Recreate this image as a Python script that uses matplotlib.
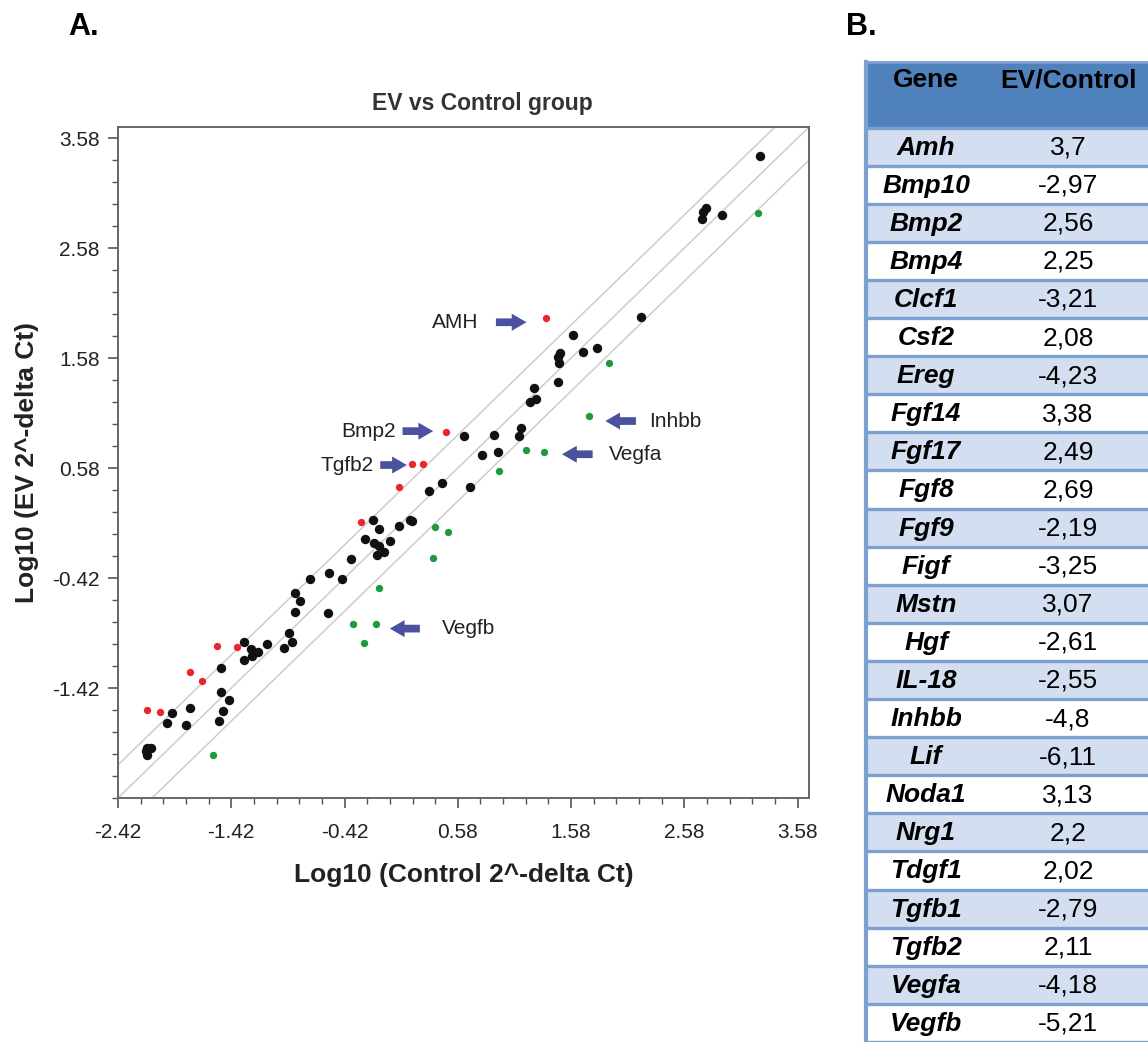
import matplotlib
matplotlib.use("Agg")
import matplotlib.pyplot as plt
from matplotlib.patches import Rectangle, FancyArrow
from matplotlib.ticker import FixedLocator
import numpy as np

plt.rcParams["font.family"] = ["Liberation Sans", "DejaVu Sans"]

# Log10 (Control 2^-delta Ct) vs Log10 (EV 2^-delta Ct)
black_x = [3.246, 2.770, 2.748, 2.732, 2.908, 2.193, 1.599, 1.687, 1.812, 1.481,
           1.461, 1.472, 1.463, 1.252, 1.269, 1.216, 1.140, 1.117, 0.638, 0.901,
           0.797, 0.937, 0.329, 0.442, 0.687, 0.157, 0.178, 0.065, -0.165, -0.116,
           -0.243, -0.163, -0.116, -0.019, -0.137, -0.074, -0.364, -0.555, -0.721, -0.440,
           -0.856, -0.814, -0.856, -0.567, -0.913, -0.882, -0.959, -1.108, -1.308, -1.246,
           -1.187, -1.237, -1.306, -1.511, -1.511, -1.438, -1.496, -1.526, -1.785, -1.822,
           -1.946, -1.985, -2.160, -2.133, -2.164, -2.173]
black_y = [3.419, 2.948, 2.910, 2.842, 2.880, 1.950, 1.786, 1.637, 1.671, 1.630,
           1.586, 1.532, 1.366, 1.310, 1.210, 1.183, 0.944, 0.871, 0.874, 0.880,
           0.695, 0.728, 0.374, 0.442, 0.410, 0.107, 0.098, 0.053, 0.107, 0.025,
           -0.067, -0.102, -0.125, -0.084, -0.215, -0.185, -0.247, -0.379, -0.431, -0.431,
           -0.555, -0.627, -0.729, -0.735, -0.917, -1.006, -1.055, -1.022, -0.999, -1.063,
           -1.095, -1.125, -1.168, -1.234, -1.459, -1.529, -1.629, -1.720, -1.606, -1.758,
           -1.650, -1.738, -1.967, -1.967, -2.029, -1.997]

# up-regulated (red)
up_x = [1.360, 0.478, 0.178, 0.272, 0.060, -0.273, -1.549, -1.370, -1.782, -1.680,
        -2.164, -2.049]
up_y = [1.941, 0.909, 0.612, 0.612, 0.410, 0.085, -1.035, -1.049, -1.273, -1.352,
        -1.620, -1.634]

# down-regulated (green)
down_x = [3.229, 1.918, 1.734, 1.184, 1.340, 0.945, 0.378, 0.490, 0.365, -0.115,
          -0.346, -0.146, -0.251, -1.579]
down_y = [2.901, 1.536, 1.057, 0.748, 0.728, 0.550, 0.046, -0.005, -0.241, -0.513,
          -0.835, -0.835, -1.014, -2.026]

ticks = [-2.42, -1.42, -0.42, 0.58, 1.58, 2.58, 3.58]
fold_cut = np.log10(2)

# table B
genes = ["Amh", "Bmp10", "Bmp2", "Bmp4", "Clcf1", "Csf2", "Ereg", "Fgf14", "Fgf17",
         "Fgf8", "Fgf9", "Figf", "Mstn", "Hgf", "IL-18", "Inhbb", "Lif", "Noda1",
         "Nrg1", "Tdgf1", "Tgfb1", "Tgfb2", "Vegfa", "Vegfb"]
ev_control = [3.7, -2.97, 2.56, 2.25, -3.21, 2.08, -4.23, 3.38, 2.49, 2.69, -2.19,
              -3.25, 3.07, -2.61, -2.55, -4.8, -6.11, 3.13, 2.2, 2.02, -2.79, 2.11,
              -4.18, -5.21]

# callouts: label, text x, text y, arrow tail x, arrow dx
callouts = [("AMH", 0.554, 1.905, 0.916, 0.27),
            ("Bmp2", -0.205, 0.915, 0.092, 0.27),
            ("Tgfb2", -0.400, 0.607, -0.105, 0.235),
            ("Inhbb", 2.501, 1.007, 2.152, -0.27),
            ("Vegfa", 2.152, 0.705, 1.770, -0.27),
            ("Vegfb", 0.678, -0.880, 0.245, -0.265)]

W, H = 1148, 1042
fig = plt.figure(figsize=(W / 100, H / 100), dpi=100)

ax = fig.add_axes([118 / W, 1 - 798 / H, 691 / W, 671 / H])
lo, hi = -2.42, 3.68
xx = np.array([lo - 1, hi + 1])
for off in (fold_cut, 0, -fold_cut):
    ax.plot(xx, xx + off, color="#cccccc", lw=1.1, zorder=1)

ax.scatter(black_x, black_y, s=46, color="#111111", zorder=3, linewidths=0)
ax.scatter(up_x, up_y, s=28, color="#e8262b", zorder=3, linewidths=0)
ax.scatter(down_x, down_y, s=28, color="#1e9a3c", zorder=3, linewidths=0)

for name, tx, ty, ax0, dx in callouts:
    ax.add_patch(FancyArrow(ax0, ty, dx, 0, width=0.07, head_width=0.155,
                            head_length=0.13, length_includes_head=True,
                            color="#4a519e", lw=0, zorder=2))
    ax.text(tx, ty, name, fontsize=15, ha="center", va="center", color="#222222")

ax.set_xlim(lo, hi)
ax.set_ylim(lo, hi)
ax.set_xticks(ticks)
ax.set_xticklabels([f"{t:.2f}" for t in ticks])
ax.set_yticks(ticks[1:])
ax.set_yticklabels([f"{t:.2f}" for t in ticks[1:]])
ax.xaxis.set_minor_locator(FixedLocator(np.arange(lo, hi, 0.2)))
ax.yaxis.set_minor_locator(FixedLocator(np.arange(lo, hi, 0.2)))
ax.tick_params(which="major", direction="out", length=7, width=1.2, color="#555555",
               labelsize=15, labelcolor="#222222")
ax.tick_params(which="minor", direction="out", length=4, width=1, color="#555555")
ax.tick_params(axis="x", which="major", pad=11)
ax.tick_params(axis="y", which="major", pad=6)
for sp in ax.spines.values():
    sp.set_color("#666666")
    sp.set_linewidth(1.4)

ax.set_title("EV vs Control group", fontsize=16.5, fontweight="bold", color="#333333",
             pad=12, x=0.527)
ax.set_xlabel("Log10 (Control 2^-delta Ct)", fontsize=19, fontweight="bold",
              color="#222222", labelpad=15)
ax.set_ylabel("Log10 (EV 2^-delta Ct)", fontsize=19, fontweight="bold",
              color="#222222", labelpad=10)

# overlay in pixel units for panel letters and the table
ov = fig.add_axes([0, 0, 1, 1])
ov.set_xlim(0, W)
ov.set_ylim(H, 0)
ov.axis("off")
ov.text(68, 27, "A.", fontsize=22, fontweight="bold", va="center")
ov.text(846, 27, "B.", fontsize=22, fontweight="bold", va="center")

left, right = 866, W + 5
head_top, row0, row_h = 61.5, 127.5, 38.1
border = "#7ca1d1"
ov.add_patch(Rectangle((left, head_top), right - left, row0 - head_top,
                       facecolor="#4f81bd", edgecolor="none"))
ov.text(926, 80, "Gene", fontsize=19, fontweight="bold", ha="center", va="center")
ov.text(1068, 80, "EV/Control", fontsize=19, fontweight="bold", ha="center", va="center")
for i, (g, v) in enumerate(zip(genes, ev_control)):
    top = row0 + i * row_h
    fc = "#d3dff0" if i % 2 == 0 else "white"
    ov.add_patch(Rectangle((left, top), right - left, row_h, facecolor=fc,
                           edgecolor="none"))
    ov.plot([left, right], [top, top], color=border, lw=2.4, solid_capstyle="butt")
    ov.text(926, top + row_h / 2 + 1, g, fontsize=19, fontweight="bold",
            fontstyle="italic", ha="center", va="center")
    ov.text(1068, top + row_h / 2 + 1, f"{v:g}".replace(".", ","), fontsize=19,
            ha="center", va="center")
ov.plot([left, right], [H - 0.5, H - 0.5], color=border, lw=2.4)
ov.plot([left, left], [head_top, H], color=border, lw=3)
ov.plot([left, right], [head_top, head_top], color=border, lw=2)

fig.savefig("out.png", dpi=100)
